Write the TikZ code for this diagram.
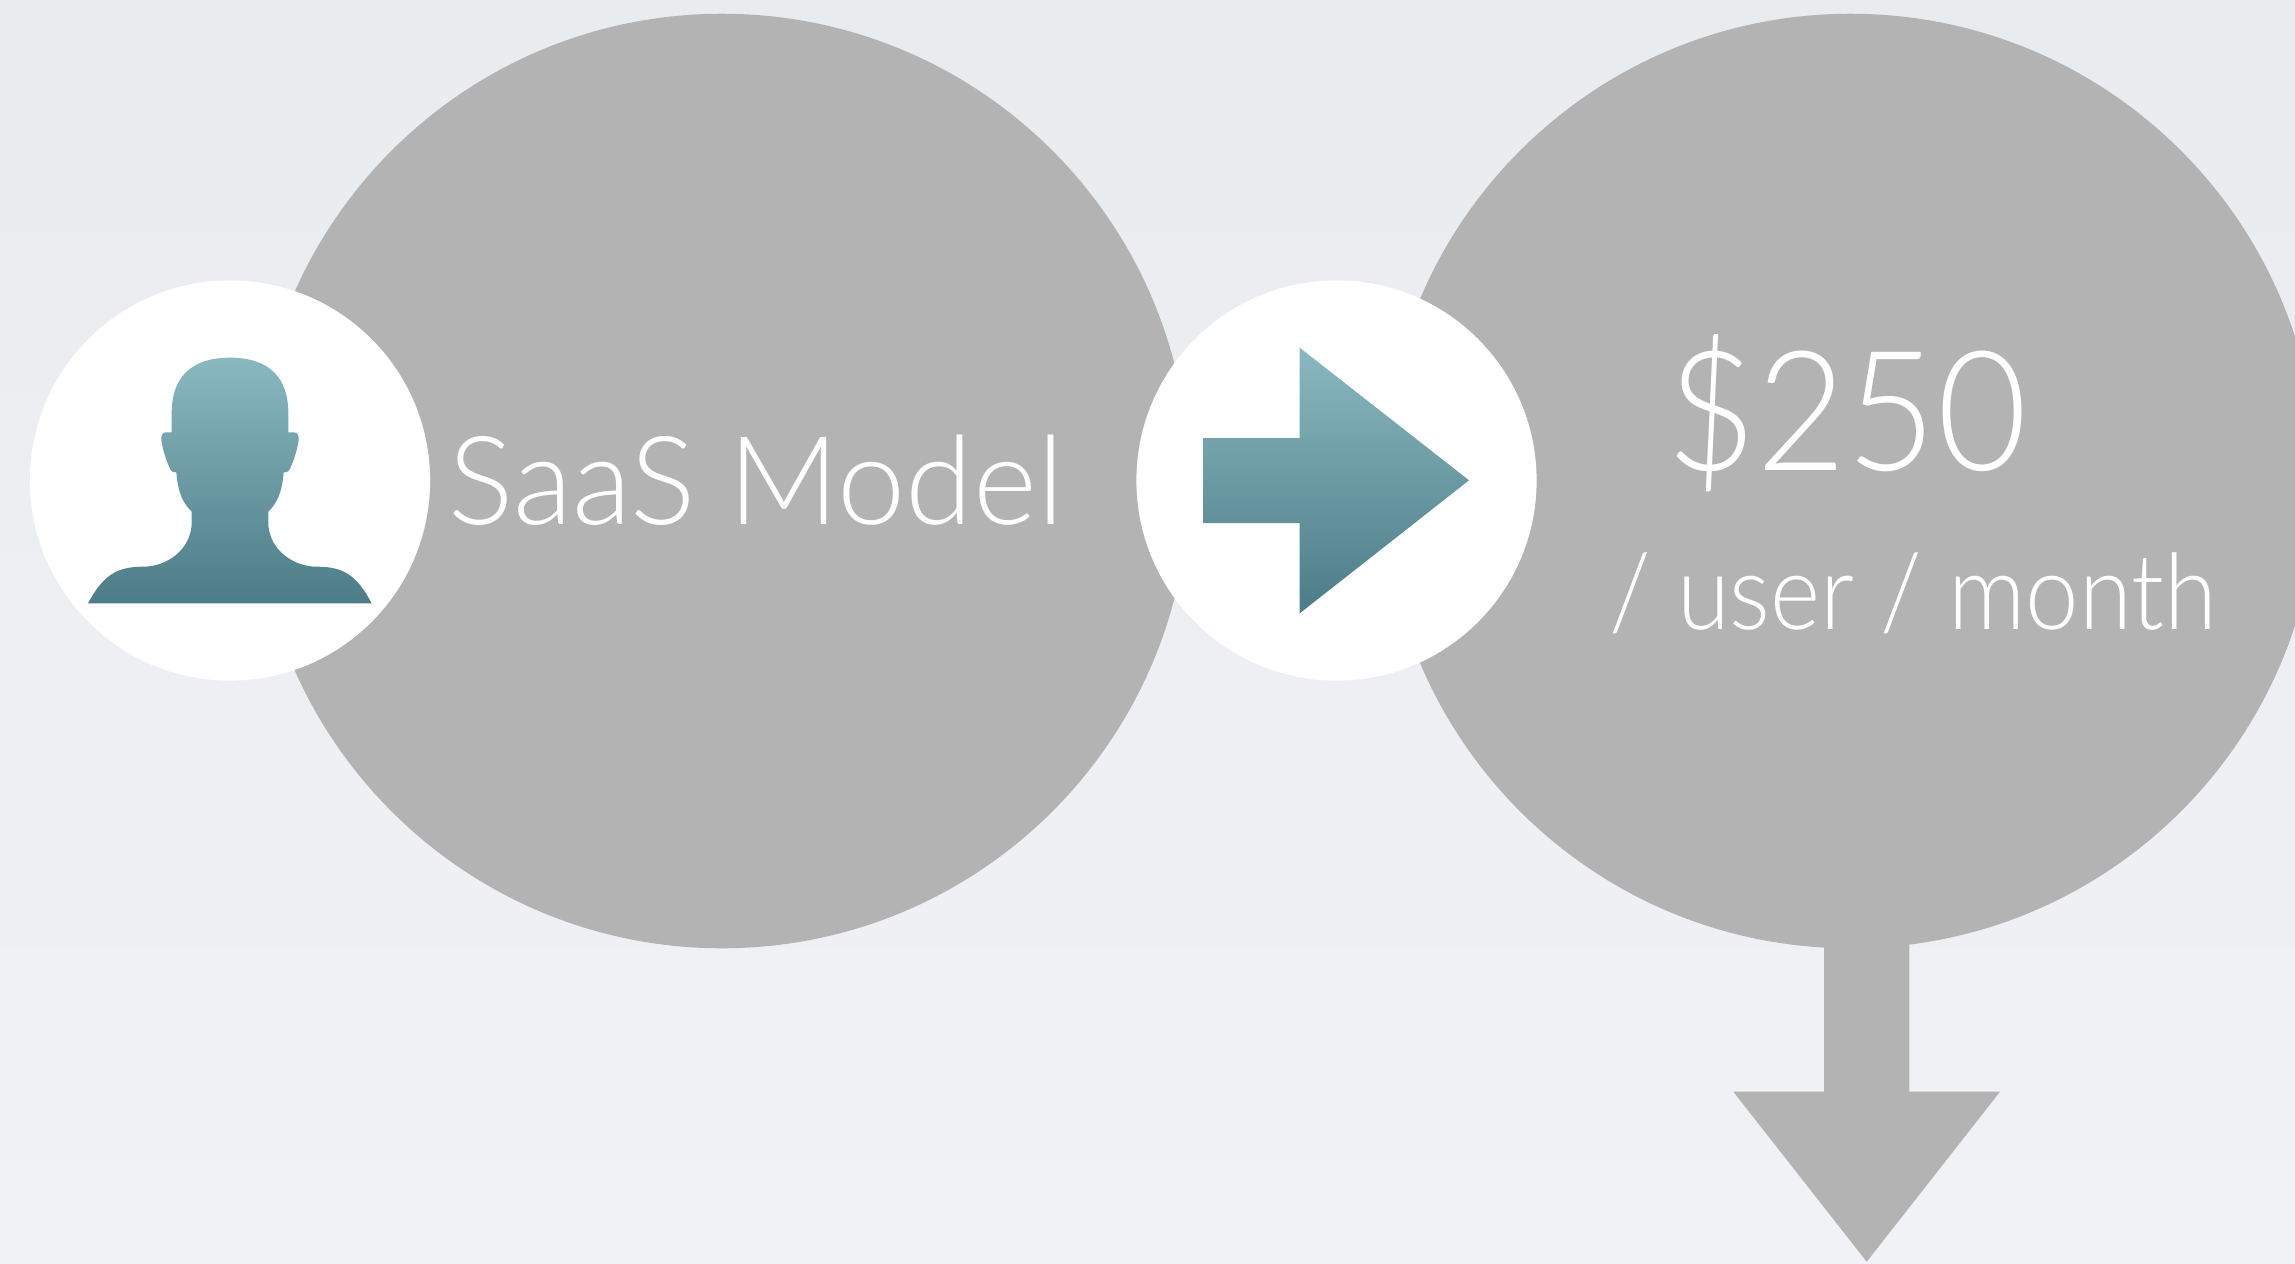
\documentclass[tikz,border=0pt]{standalone}
\usepackage{fontspec}
\usepackage{graphicx}
\newfontfamily\thinfont{Lato Light}
\definecolor{bgtop}{HTML}{E9ECEF}
\definecolor{bgbot}{HTML}{F1F2F6}
\definecolor{disc}{HTML}{B3B3B3}
\definecolor{tealtop}{HTML}{8AB8C0}
\definecolor{tealbot}{HTML}{4C7C87}
\tikzset{
  bigdisc/.style={circle,fill=disc,draw=none,minimum size=9.34cm,inner sep=0pt},
  whitedisc/.style={circle,fill=white,draw=none,minimum size=4cm,inner sep=0pt},
  teal/.style={top color=tealtop,bottom color=tealbot,draw=none},
  label/.style={text=white,anchor=base west,inner sep=0pt,font=\thinfont}
}
\begin{document}
\begin{tikzpicture}[x=0.01cm,y=-0.01cm]
\clip (0,0) rectangle (2295,1263);
\shade[top color=bgtop,bottom color=bgbot] (0,0) rectangle (2295,1263);
\node[bigdisc] (left) at (722,481) {};
\node[bigdisc] (right) at (1850.5,481) {};
\fill[disc] (1824,930) -- (1909.3,930) -- (1909.3,1091.7) -- (2000,1091.7) -- (1866.7,1261.7) -- (1733.3,1091.7) -- (1824,1091.7) -- cycle;
\node[whitedisc] (user) at (230,480.5) {};
\node[whitedisc] (go) at (1336.5,480.5) {};
\shade[teal] (1203,438) -- (1299.7,438) -- (1299.7,347.7) -- (1469,480.3) -- (1299.7,613.3) -- (1299.7,523) -- (1203,523) -- cycle;
\begin{scope}[x=0.01cm/3,y=-0.01cm/3,shift={(0,750)}]
\shade[teal] (690,323)
 .. controls (810,323) and (865,385) .. (865,490)
 -- (865,547) -- (882,547)
 .. controls (892,547) and (897,555) .. (896,570)
 .. controls (892,600) and (880,635) .. (868,660)
 .. controls (865,666) and (860,667) .. (851,667)
 .. controls (846,730) and (830,760) .. (805,785)
 -- (805,825)
 .. controls (810,900) and (880,950) .. (950,950)
 .. controls (1030,950) and (1070,975) .. (1115,1060)
 -- (264,1060)
 .. controls (310,975) and (350,950) .. (430,950)
 .. controls (500,950) and (570,900) .. (575,825)
 -- (575,785)
 .. controls (550,760) and (534,730) .. (529,667)
 .. controls (520,667) and (515,666) .. (512,660)
 .. controls (500,635) and (488,600) .. (484,570)
 .. controls (483,555) and (488,547) .. (498,547)
 -- (515,547) -- (515,490)
 .. controls (515,385) and (570,323) .. (690,323) -- cycle;
\end{scope}
\node[label,font=\thinfont\fontsize{35}{35}\selectfont] (model) at (448,524) {\scalebox{0.993}[1]{SaaS Model}};
\node[label,font=\thinfont\fontsize{47.5}{47.5}\selectfont] (price) at (1666,470) {\scalebox{0.93}[1]{\$250}};
\node[label,font=\thinfont\fontsize{30}{30}\selectfont] (per) at (1608.5,629) {\scalebox{0.91}[1]{/ user / month}};
\end{tikzpicture}
\end{document}
